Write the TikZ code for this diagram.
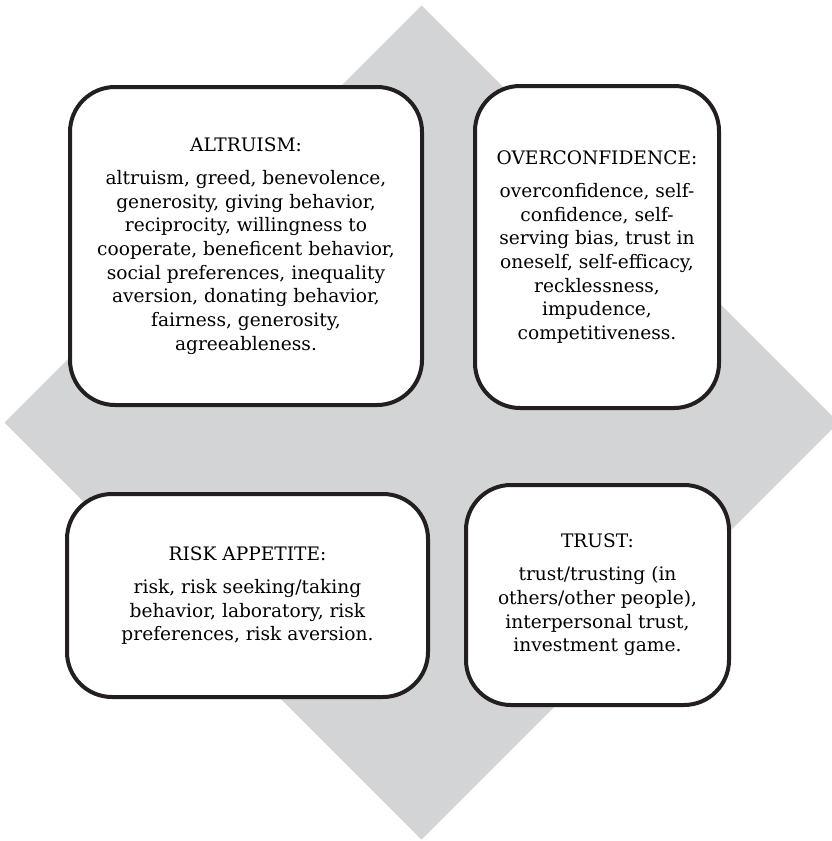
\documentclass[tikz,border=0pt]{standalone}
\usepackage{fontspec}
\setmainfont{DejaVu Serif}
\definecolor{grigio}{RGB}{211,212,214}
\definecolor{nero}{RGB}{35,31,32}

\begin{document}
\begin{tikzpicture}[x=1pt,y=-1pt]
    \useasboundingbox (0,0) rectangle (832,841);
    \clip (0,0) rectangle (832,841);
    \def\r{417}
    % rombo
    \fill[grigio] (421.5,422.5) coordinate (centro) +(0,-\r) -- +(\r,0) -- +(0,\r) -- +(-\r,0) -- cycle;

    \tikzset{box/.style = {draw=nero, line width=4pt, rounded corners=45pt, fill=white, align=center, inner sep=0pt, outer sep=0pt, font=\fontsize{18.6}{23.7}\selectfont}}

    % riquadri
    \node [box, minimum width=352pt, minimum height=318pt] (naltruism) at (246,246)
        {ALTRUISM:\\[9.5pt]
         altruism, greed, benevolence,\\
         generosity, giving behavior,\\
         reciprocity, willingness to\\
         cooperate, beneficent behavior,\\
         social preferences, inequality\\
         aversion, donating behavior,\\
         fairness, generosity,\\
         agreeableness.};
    \node [box, minimum width=244pt, minimum height=322pt] (noverconfidence) at (597,247)
        {OVERCONFIDENCE:\\[9.5pt]
         overconfidence, self-\\
         confidence, self-\\
         serving bias, trust in\\
         oneself, self-efficacy,\\
         recklessness,\\
         impudence,\\
         competitiveness.};
    \node [box, minimum width=361pt, minimum height=203pt] (nrisk) at (247.5,595.5)
        {RISK APPETITE:\\[9.5pt]
         risk, risk seeking/taking\\
         behavior, laboratory, risk\\
         preferences, risk aversion.};
    \node [box, minimum width=263pt, minimum height=220pt] (ntrust) at (597.5,595)
        {TRUST:\\[9.5pt]
         trust/trusting (in\\
         others/other people),\\
         interpersonal trust,\\
         investment game.};

\end{tikzpicture}
\end{document}
